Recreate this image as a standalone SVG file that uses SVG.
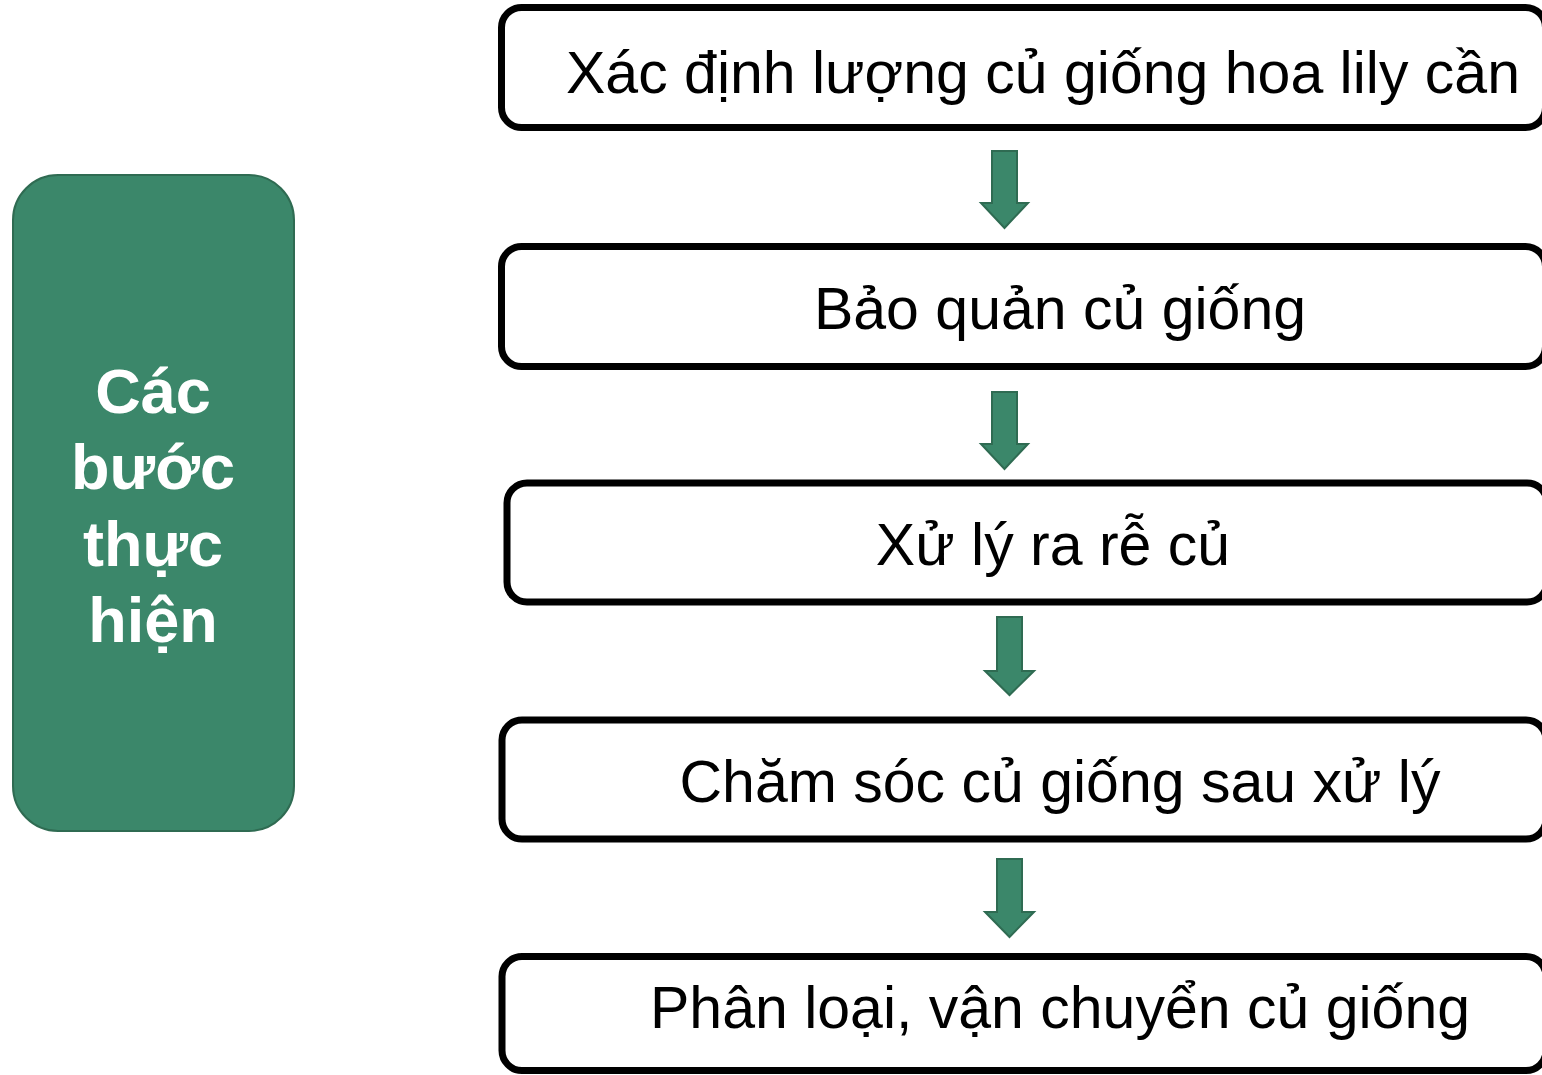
<svg xmlns="http://www.w3.org/2000/svg" width="1542" height="1075" viewBox="0 0 1542 1075">
<style>
.box{fill:#fff;stroke:#000;stroke-width:7}
.t{font-family:"Liberation Sans",Arial,sans-serif;font-size:59px;fill:#000;text-anchor:middle}
.g{font-family:"Liberation Sans",Arial,sans-serif;font-size:63px;font-weight:bold;fill:#fff;text-anchor:middle}
.arr{fill:#3B876A;stroke:#2F6B52;stroke-width:2}
</style>
<rect width="1542" height="1075" fill="#fff"/>
<g id="side">
<rect x="13" y="175" width="281" height="656" rx="45" ry="45" fill="#3B876A" stroke="#2F6B52" stroke-width="2"/>
<text class="g" x="153" y="413">Các</text>
<text class="g" x="153" y="489">bước</text>
<text class="g" x="153" y="566">thực</text>
<text class="g" x="153" y="642">hiện</text>
</g>
<g id="step1">
<rect class="box" x="501.5" y="7.5" width="1044" height="120" rx="20"/>
<text class="t" x="1043" y="93">Xác định lượng củ giống hoa lily cần</text>
</g>
<g id="step2">
<rect class="box" x="501.5" y="246.5" width="1044" height="120" rx="20"/>
<text class="t" x="1060" y="329">Bảo quản củ giống</text>
</g>
<g id="step3">
<rect class="box" x="507" y="483" width="1040" height="119" rx="20"/>
<text class="t" x="1053" y="565">Xử lý ra rễ củ</text>
</g>
<g id="step4">
<rect class="box" x="502" y="720" width="1044" height="119" rx="20"/>
<text class="t" x="1060" y="802">Chăm sóc củ giống sau xử lý</text>
</g>
<g id="step5">
<rect class="box" x="502" y="956.5" width="1044" height="114" rx="20"/>
<text class="t" x="1060" y="1028">Phân loại, vận chuyển củ giống</text>
</g>
<g id="connectors">
<polygon class="arr" points="992,151 1017,151 1017,203 1028,203 1004.5,228 981,203 992,203"/>
<polygon class="arr" points="992,392 1017,392 1017,444 1028,444 1004.5,469 981,444 992,444"/>
<polygon class="arr" points="997,617 1022,617 1022,671 1034,671 1009.5,695 985,671 997,671"/>
<polygon class="arr" points="997,859 1022,859 1022,912 1034,912 1009.5,937 985,912 997,912"/>
</g>
</svg>
